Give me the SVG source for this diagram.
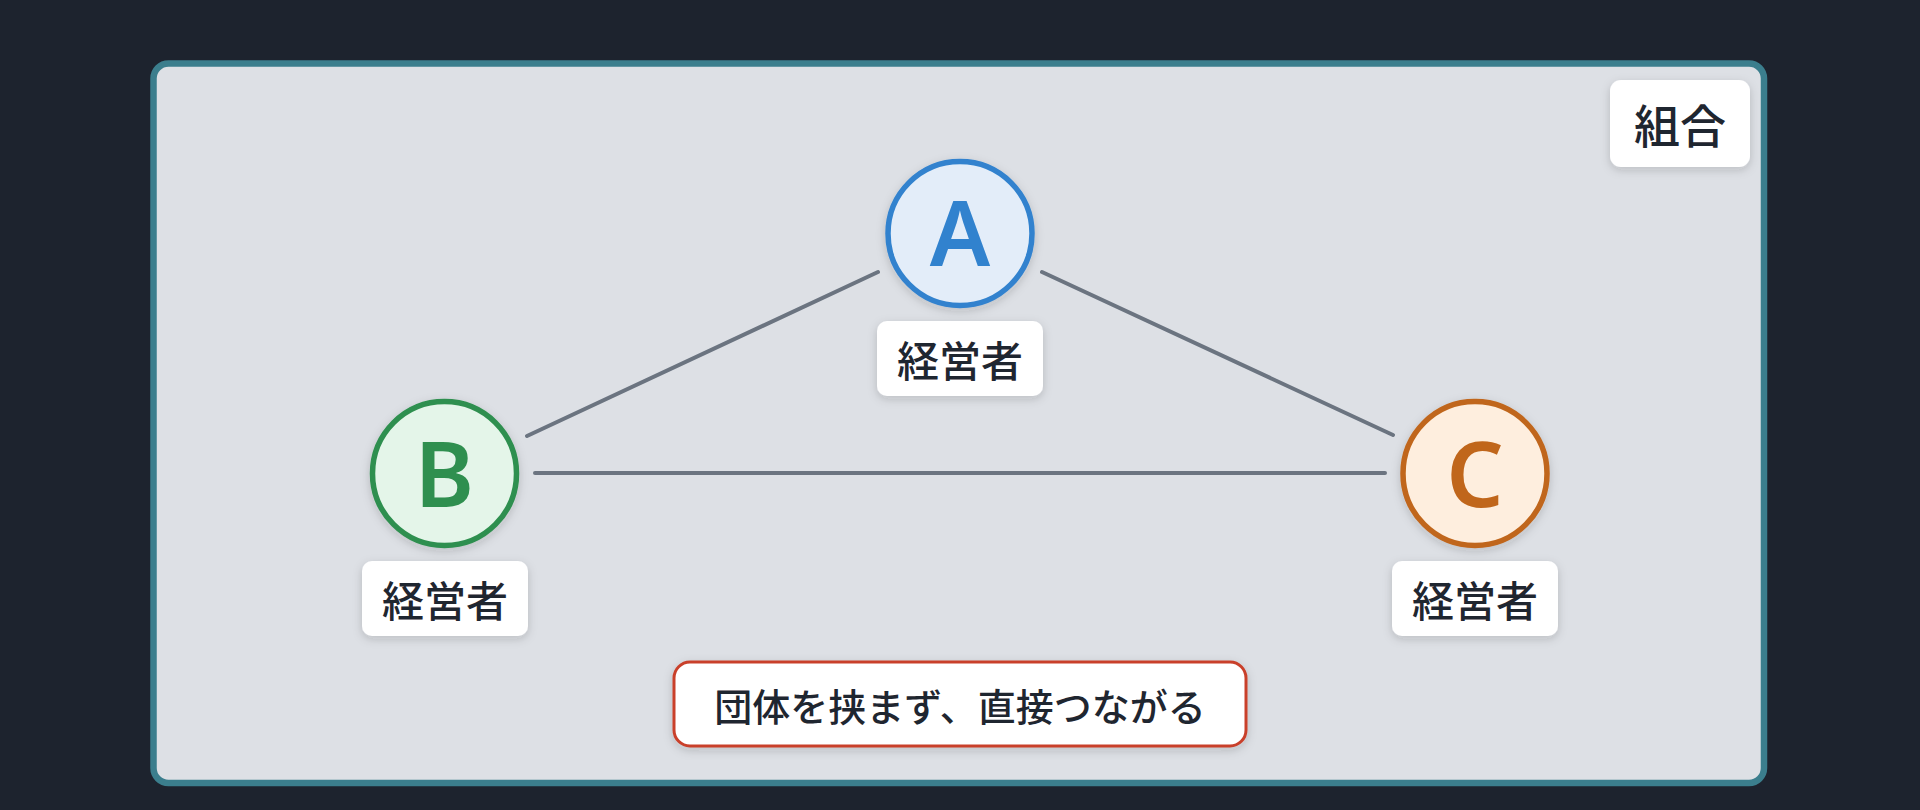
<svg xmlns="http://www.w3.org/2000/svg" width="1920" height="810" viewBox="0 0 1920 810">
<defs>
<filter id="sh" x="-30%" y="-30%" width="160%" height="160%">
<feDropShadow dx="0" dy="3" stdDeviation="5" flood-color="#1e2430" flood-opacity="0.18"/>
</filter>
<style>
.jp{font-family:"Noto Sans CJK JP","Noto Sans CJK SC",sans-serif;font-weight:500;fill:#1f2630;text-anchor:middle;dominant-baseline:central}
.lbl{fill:#ffffff;filter:url(#sh)}
.letter{font-family:"Noto Sans","Liberation Sans",sans-serif;font-weight:600;font-size:90px;text-anchor:middle}
.edge{stroke:#6b7480;stroke-width:4;stroke-linecap:round;fill:none}
</style>
</defs>
<rect width="1920" height="810" fill="#1d232e"/>
<g id="frame">
<rect x="153.5" y="63.5" width="1610.5" height="719.5" rx="15" fill="#dde0e5" stroke="#3b7e8d" stroke-width="6.5"/>
<rect class="lbl" x="1610" y="80" width="140" height="87" rx="11"/>
<text class="jp" x="1680" y="123" font-size="46">組合</text>
</g>
<g id="connectors">
<line class="edge" x1="878" y1="272" x2="527" y2="436"/>
<line class="edge" x1="1042" y1="272" x2="1393" y2="435"/>
<line class="edge" x1="535" y1="473" x2="1385" y2="473"/>
</g>
<g id="node-a">
<circle cx="960" cy="233.5" r="72" fill="#e3edf9" stroke="#3182ce" stroke-width="5.5" filter="url(#sh)"/>
<text class="letter" x="960" y="266" fill="#3182ce">A</text>
<rect class="lbl" x="877" y="321" width="166" height="75" rx="10"/>
<text class="jp" x="960" y="358" font-size="42">経営者</text>
</g>
<g id="node-b">
<circle cx="444.5" cy="473.5" r="72" fill="#e4f5e9" stroke="#2f8f4f" stroke-width="5.5" filter="url(#sh)"/>
<text class="letter" x="444.5" y="507" fill="#2f8f4f">B</text>
<rect class="lbl" x="362" y="561" width="166" height="75" rx="10"/>
<text class="jp" x="445" y="598" font-size="42">経営者</text>
</g>
<g id="node-c">
<circle cx="1475" cy="473.5" r="72" fill="#feeede" stroke="#c0661b" stroke-width="5.5" filter="url(#sh)"/>
<text class="letter" x="1475" y="507" fill="#c0661b">C</text>
<rect class="lbl" x="1392" y="561" width="166" height="75" rx="10"/>
<text class="jp" x="1475" y="598" font-size="42">経営者</text>
</g>
<g id="note">
<rect x="674" y="662" width="572" height="84" rx="16" fill="#ffffff" stroke="#c9402b" stroke-width="3" filter="url(#sh)"/>
<text class="jp" x="960" y="704" font-size="38">団体を挟まず、直接つながる</text>
</g>
</svg>
